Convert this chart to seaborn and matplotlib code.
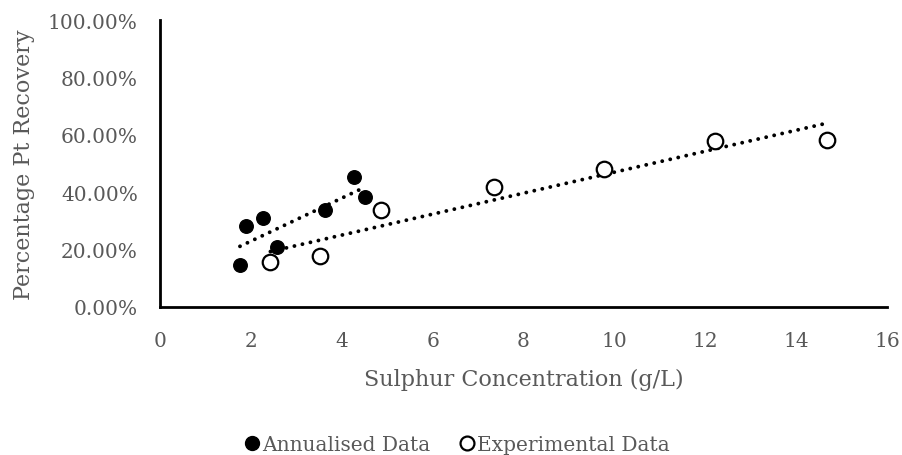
import numpy as np
import pandas as pd
import matplotlib
matplotlib.use("Agg")
import matplotlib.pyplot as plt
import seaborn as sns
from matplotlib.ticker import PercentFormatter
from matplotlib.lines import Line2D

# Annualised data (sulphur g/L, Pt recovery fraction)
annual_x = [1.76, 1.89, 2.26, 2.57, 3.64, 4.28, 4.51]
annual_y = [0.146, 0.283, 0.311, 0.210, 0.337, 0.453, 0.384]

# Experimental data
exp_x = [2.43, 3.51, 4.86, 7.34, 9.78, 12.22, 14.67]
exp_y = [0.158, 0.178, 0.337, 0.419, 0.481, 0.577, 0.583]

df_a = pd.DataFrame({'x': annual_x, 'y': annual_y})
df_e = pd.DataFrame({'x': exp_x, 'y': exp_y})

sns.set_style('white')
plt.rcParams['font.family'] = ['DejaVu Serif']
grey = '#595959'

fig = plt.figure(figsize=(9.02, 4.56), dpi=100)
ax = fig.add_axes([0.1774, 0.3246, 0.806, 0.6293])

# trend lines (linear fit, dotted)
dot_style = (0, (0.01, 2.1))
for d in (df_a, df_e):
    sns.regplot(data=d, x='x', y='y', ax=ax, scatter=False, ci=None, truncate=True,
                line_kws={'color': 'black', 'lw': 2.8, 'linestyle': dot_style,
                          'dash_capstyle': 'round'})

sns.scatterplot(data=df_a, x='x', y='y', ax=ax, color='black', s=95,
                edgecolor='black', linewidth=1, zorder=3)
sns.scatterplot(data=df_e, x='x', y='y', ax=ax, facecolor='white', s=125,
                edgecolor='black', linewidth=1.6, zorder=3)

ax.set_xlim(0, 16)
ax.set_ylim(0, 1)
ax.set_xticks(range(0, 17, 2))
ax.set_yticks(np.arange(0, 1.01, 0.2))
ax.yaxis.set_major_formatter(PercentFormatter(1.0, decimals=2))
ax.tick_params(direction='in', length=6, width=1.5, colors='black',
               labelcolor=grey, labelsize=14.5)
ax.tick_params(axis='x', pad=17)
ax.tick_params(axis='y', pad=16)

sns.despine(ax=ax)
for side in ('left', 'bottom'):
    ax.spines[side].set_color('black')
    ax.spines[side].set_linewidth(2)

ax.set_xlabel('Sulphur Concentration (g/L)', color=grey, fontsize=16, labelpad=13)
ax.set_ylabel('Percentage Pt Recovery', color=grey, fontsize=16, labelpad=9)

handles = [
    Line2D([], [], marker='o', linestyle='none', markerfacecolor='black',
           markeredgecolor='black', markersize=10),
    Line2D([], [], marker='o', linestyle='none', markerfacecolor='white',
           markeredgecolor='black', markeredgewidth=1.6, markersize=10),
]
fig.legend(handles, ['Annualised Data', 'Experimental Data'], loc='center',
           bbox_to_anchor=(0.504, 0.024), ncol=2, frameon=False, fontsize=14.5,
           labelcolor=grey, handletextpad=-0.1, columnspacing=1.2, handlelength=1.2)

fig.savefig('out.png', dpi=100)
